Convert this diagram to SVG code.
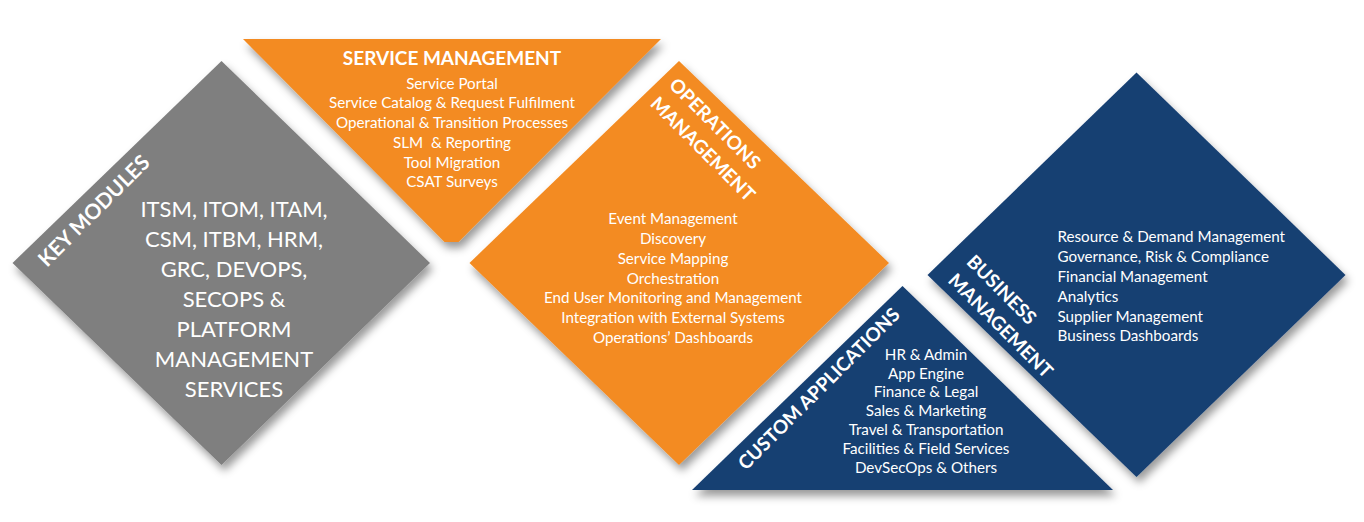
<svg xmlns="http://www.w3.org/2000/svg" width="1364" height="522" viewBox="0 0 1364 522">
<defs>
<filter id="sh" x="-10%" y="-10%" width="125%" height="130%">
<feDropShadow dx="3" dy="6" stdDeviation="4" flood-color="#000" flood-opacity="0.4"/>
</filter>
<style>
.t{font-family:Lato,"Liberation Sans",sans-serif;fill:#fff;font-size:15.2px;text-anchor:middle}
.l{text-anchor:start}
.big{font-size:22px}
.h{font-weight:bold;font-size:19px}
.gray{fill:#7f7f7f}
.org{fill:#f38b22}
.blu{fill:#163f72}
</style>
</defs>
<rect width="1364" height="522" fill="#fff"/>
<g id="key-modules">
<polygon class="gray" filter="url(#sh)" points="221.5,61 430,263 221.5,465 12.5,263"/>
<text class="t h" transform="translate(99,216) rotate(-45)" x="0" y="0" style="font-size:21px">KEY MODULES</text>
<text class="t big" x="234" y="217">ITSM, ITOM, ITAM,</text>
<text class="t big" x="234" y="247">CSM, ITBM, HRM,</text>
<text class="t big" x="234" y="277">GRC, DEVOPS,</text>
<text class="t big" x="234" y="307">SECOPS &amp;</text>
<text class="t big" x="234" y="337">PLATFORM</text>
<text class="t big" x="234" y="367">MANAGEMENT</text>
<text class="t big" x="234" y="397">SERVICES</text>
</g>
<g id="service-management">
<polygon class="org" filter="url(#sh)" points="243,39 661,39 458.5,242 444.5,242"/>
<text class="t h" x="452" y="65">SERVICE MANAGEMENT</text>
<text class="t" x="452" y="88.5">Service Portal</text>
<text class="t" x="452" y="108.3">Service Catalog &amp; Request Fulfilment</text>
<text class="t" x="452" y="128">Operational &amp; Transition Processes</text>
<text class="t" x="452" y="148" xml:space="preserve">SLM  &amp; Reporting</text>
<text class="t" x="452" y="167.7">Tool Migration</text>
<text class="t" x="452" y="187">CSAT Surveys</text>
</g>
<g id="operations-management">
<polygon class="org" filter="url(#sh)" points="679,61 889,263 679,465 469.5,263"/>
<g transform="translate(668,86) rotate(45)">
<text class="t h l" x="0" y="0">OPERATIONS</text>
<text class="t h l" x="0" y="26.5">MANAGEMENT</text>
</g>
<text class="t" x="673" y="224">Event Management</text>
<text class="t" x="673" y="244">Discovery</text>
<text class="t" x="673" y="264">Service Mapping</text>
<text class="t" x="673" y="283.5">Orchestration</text>
<text class="t" x="673" y="303.3">End User Monitoring and Management</text>
<text class="t" x="673" y="322.8">Integration with External Systems</text>
<text class="t" x="673" y="342.5">Operations’ Dashboards</text>
</g>
<g id="custom-applications">
<polygon class="blu" filter="url(#sh)" points="902.5,286 1113,490 692,490"/>
<text class="t h" transform="translate(823.5,393.5) rotate(-45)" x="0" y="0">CUSTOM APPLICATIONS</text>
<text class="t" x="926" y="360">HR &amp; Admin</text>
<text class="t" x="926" y="379.3">App Engine</text>
<text class="t" x="926" y="397.3">Finance &amp; Legal</text>
<text class="t" x="926" y="416">Sales &amp; Marketing</text>
<text class="t" x="926" y="435">Travel &amp; Transportation</text>
<text class="t" x="926" y="454">Facilities &amp; Field Services</text>
<text class="t" x="926" y="472.7">DevSecOps &amp; Others</text>
</g>
<g id="business-management">
<polygon class="blu" filter="url(#sh)" points="1136.5,72.5 1345.5,275 1136.5,477 927.5,275"/>
<g transform="translate(965.5,263) rotate(45)">
<text class="t h l" x="0" y="0">BUSINESS</text>
<text class="t h l" x="0" y="26">MANAGEMENT</text>
</g>
<text class="t l" x="1057.5" y="241.7">Resource &amp; Demand Management</text>
<text class="t l" x="1057.5" y="261.7">Governance, Risk &amp; Compliance</text>
<text class="t l" x="1057.5" y="281.7">Financial Management</text>
<text class="t l" x="1057.5" y="301.7">Analytics</text>
<text class="t l" x="1057.5" y="321.7">Supplier Management</text>
<text class="t l" x="1057.5" y="340.7">Business Dashboards</text>
</g>
<g id="connectors"/>
</svg>
